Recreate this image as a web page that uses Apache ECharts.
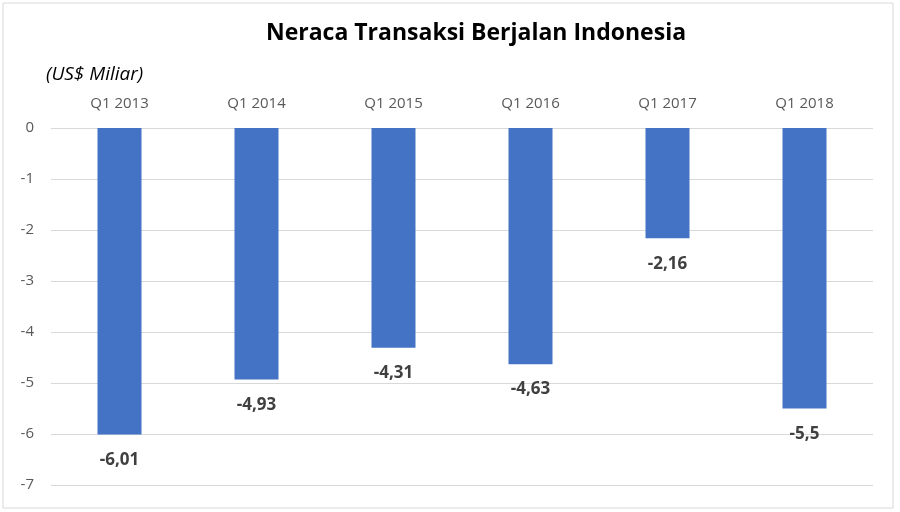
<!DOCTYPE html>
<html>
<head>
<meta charset="utf-8">
<script src="https://cdn.jsdelivr.net/npm/echarts@6/dist/echarts.min.js"></script>
<style>html,body{margin:0;padding:0;background:#fff;}#c{width:900px;height:512px;}</style>
</head>
<body>
<div id="c"></div>
<script>
const categories = ['Q1 2013', 'Q1 2014', 'Q1 2015', 'Q1 2016', 'Q1 2017', 'Q1 2018'];
const values = [-6.01, -4.93, -4.31, -4.63, -2.16, -5.5];
const yTicks = { min: -7, max: 0, interval: 1 };
const titleText = 'Neraca Transaksi Berjalan Indonesia';
const unitText = '(US$ Miliar)';

const chart = echarts.init(document.getElementById('c'), null, { renderer: 'canvas' });
const font = '"Open Sans", "Noto Sans", sans-serif';
chart.setOption({
  animation: false,
  backgroundColor: '#ffffff',
  title: {
    text: titleText,
    left: 471, top: 17, textAlign: 'center',
    textStyle: { fontFamily: font, fontSize: 23, fontWeight: 'bold', color: '#000000' }
  },
  graphic: [
    { type: 'text', left: 46, top: 65,
      style: { text: unitText, fontFamily: font, fontSize: 19, fontStyle: 'italic', fill: '#000000' } },
    { type: 'rect', shape: { x: 3, y: 3, width: 890, height: 505 },
      style: { fill: 'none', stroke: '#d9d9d9', lineWidth: 1 }, silent: true }
  ],
  grid: { left: 51, right: 27, top: 128, bottom: 27, containLabel: false },
  xAxis: {
    type: 'category', position: 'top', data: categories,
    axisLine: { show: false }, axisTick: { show: false },
    axisLabel: { color: '#595959', fontFamily: font, fontSize: 15, margin: 17 }
  },
  yAxis: {
    type: 'value', min: yTicks.min, max: yTicks.max, interval: yTicks.interval,
    axisLine: { show: false }, axisTick: { show: false },
    axisLabel: { color: '#595959', fontFamily: font, fontSize: 15, margin: 17 },
    splitLine: { lineStyle: { color: '#d9d9d9', width: 1 } }
  },
  series: [{
    type: 'bar', data: values, barWidth: 44,
    itemStyle: { color: '#4472C4' },
    label: {
      show: true, position: 'bottom', distance: 17,
      color: '#404040', fontFamily: font, fontSize: 17, fontWeight: 'bold',
      formatter: p => String(p.value).replace('.', ',')
    }
  }]
});
</script>
</body>
</html>
